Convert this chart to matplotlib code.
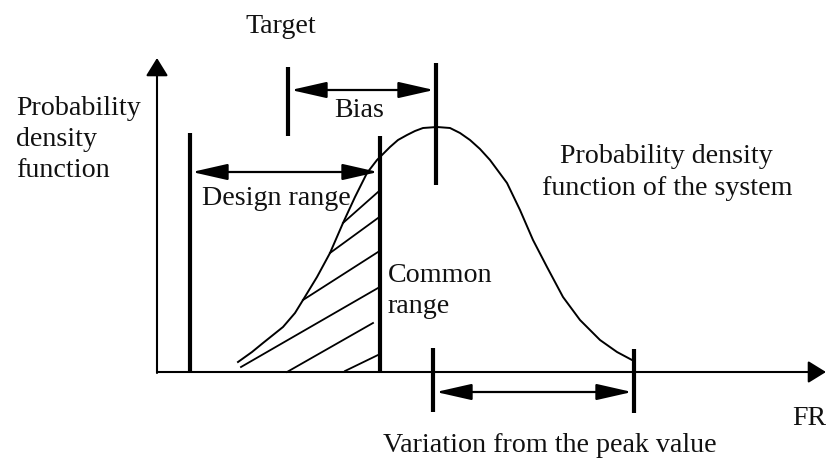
import numpy as np
import matplotlib.pyplot as plt

# 坐标按 826x462 的画布来取, y 向下为正
curve_x = [238, 252, 263, 283, 295, 303, 317, 330, 343, 355, 367, 377, 390, 398, 407,
           415, 423, 437, 450, 460, 470, 480, 490, 507, 520, 533, 547, 563, 580, 600,
           617, 632]
curve_y = [362, 352, 343, 327, 313, 300, 277, 253, 223, 197, 173, 160, 147, 140, 135,
           131, 128, 127, 128, 133, 140, 149, 160, 183, 210, 240, 267, 297, 320, 340,
           352, 360]

# 斜线阴影 (起点x, 起点y, 终点x, 终点y)
hatch_segs = [(241, 367, 378, 288), (287, 372, 373, 323), (345, 371, 378, 355),
              (303, 300, 378, 252), (330, 253, 378, 218), (343, 223, 378, 192)]

# 竖线 (x, 上端y, 下端y)
design_left = (190, 133, 372)
design_right = (380, 136, 372)
target_line = (288, 67, 136)
peak_line = (436, 63, 185)
var_left = (433, 348, 412)
var_right = (634, 349, 413)

# 尺寸箭头 (y, 左x, 右x)
bias_arrow = (90, 291, 434)
design_arrow = (172, 192, 378)
var_arrow = (392, 436, 632)

origin = (157, 372)
x_end = 826
y_end = 58

# 文字 (x, 基线y, 内容, 对齐)
labels = [
    (281, 33, 'Target', 'center'),
    (359, 117, 'Bias', 'center'),
    (16, 115, 'Probability', 'left'),
    (16, 146, 'density', 'left'),
    (16, 177, 'function', 'left'),
    (202, 205, 'Design range', 'left'),
    (666, 163, 'Probability density', 'center'),
    (667, 195, 'function of the system', 'center'),
    (388, 282, 'Common', 'left'),
    (388, 313, 'range', 'left'),
    (792, 425, 'FR', 'left'),
    (550, 452, 'Variation from the peak value', 'center'),
]

plt.rcParams['font.family'] = ['Liberation Serif', 'DejaVu Serif']

fig = plt.figure(figsize=(8.26, 4.62), dpi=100)
ax = fig.add_axes([0, 0, 1, 1])
ax.set_xlim(0, 826)
ax.set_ylim(462, 0)
ax.axis('off')

# 坐标轴
axis_style = dict(arrowstyle='-|>,head_length=0.55,head_width=0.34',
                  color='black', lw=1.5, mutation_scale=20, shrinkA=0, shrinkB=0)
ax.annotate('', xy=(x_end, origin[1]), xytext=origin, arrowprops=axis_style)
ax.annotate('', xy=(origin[0], y_end), xytext=(origin[0], origin[1] + 1),
            arrowprops=axis_style)

# 概率密度曲线
ax.plot(curve_x, curve_y, color='black', lw=1.4, solid_joinstyle='round')

for x0, y0, x1, y1 in hatch_segs:
    ax.plot([x0, x1], [y0, y1], color='black', lw=1.3)

for x, ya, yb in [design_left, design_right, target_line, peak_line, var_left, var_right]:
    ax.plot([x, x], [ya, yb], color='black', lw=3.0, solid_capstyle='butt')

for y, xa, xb in [bias_arrow, design_arrow, var_arrow]:
    ax.annotate('', xy=(xb, y), xytext=(xa, y),
                arrowprops=dict(arrowstyle='<|-|>,head_length=1.1,head_width=0.25',
                                color='black', lw=1.6, mutation_scale=20,
                                shrinkA=0, shrinkB=0))

for x, y, s, ha in labels:
    ax.text(x, y, s, fontsize=20.2, ha=ha, va='baseline', color='#111111')

fig.savefig('out.png', dpi=100, facecolor='white')
